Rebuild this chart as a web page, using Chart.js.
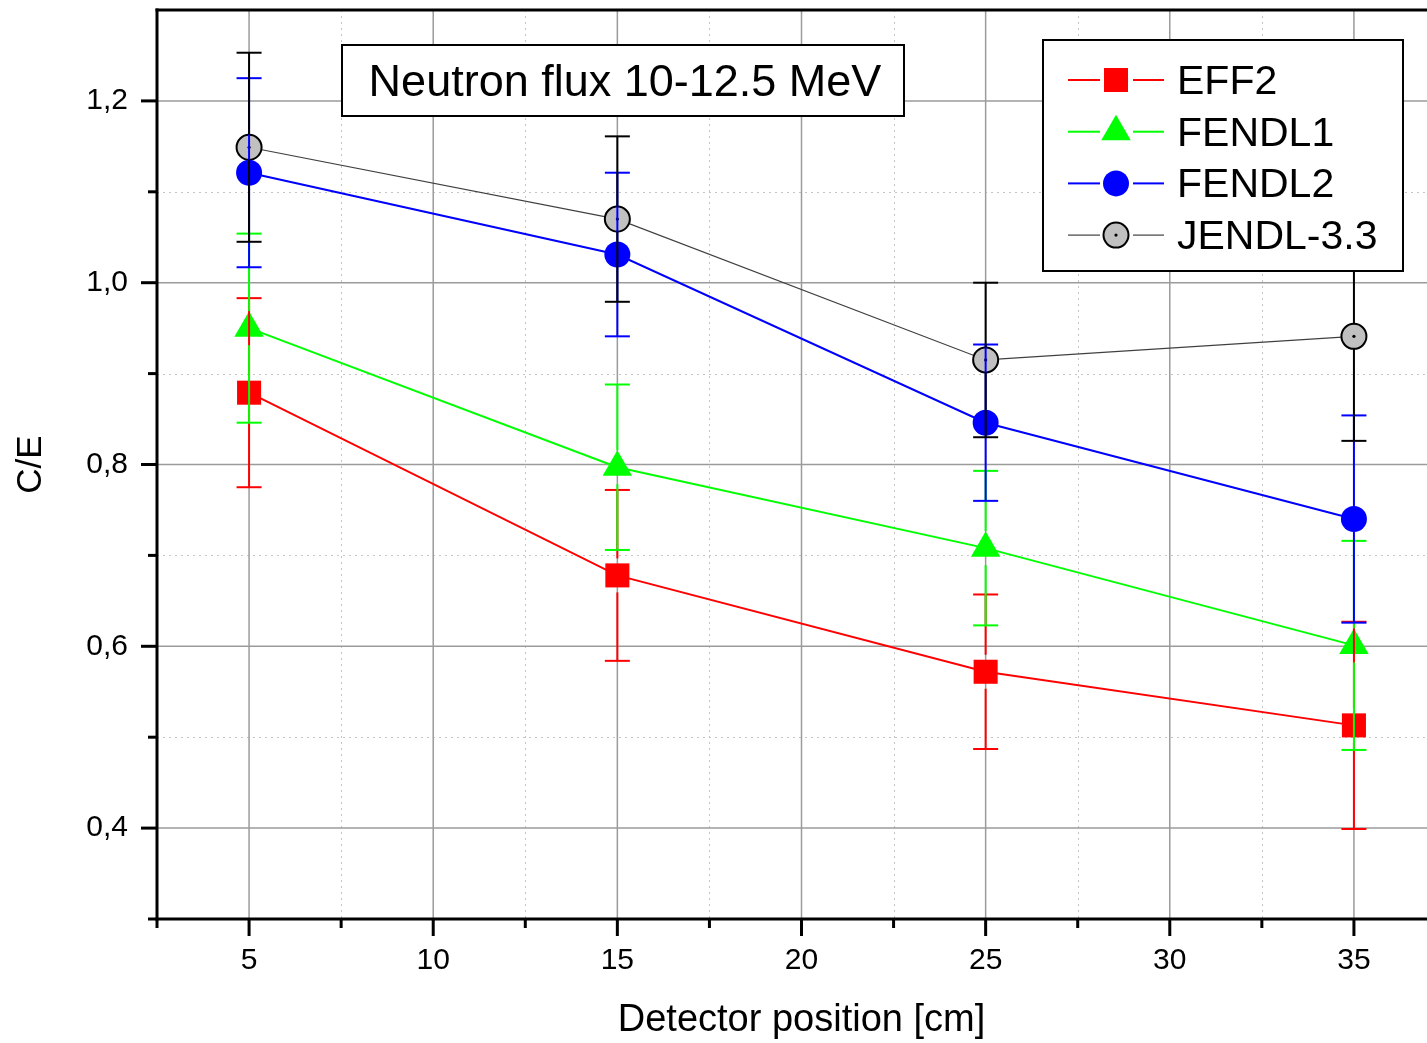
<!DOCTYPE html>
<html>
<head>
<meta charset="utf-8">
<script src="https://cdn.jsdelivr.net/npm/chart.js@4.4.1/dist/chart.umd.min.js"></script>
<style>
  html, body { margin: 0; padding: 0; background: #fff; overflow: hidden; }
  #chart { display: block; width: 1446px; height: 1043px; }
</style>
</head>
<body>
<canvas id="chart" width="1446" height="1043"></canvas>
<script>
// detector positions [cm] and C/E values
const positions = [5, 15, 25, 35];

const eff2      = [0.879, 0.678, 0.572, 0.513];
const eff2Err   = [0.104, 0.094, 0.085, 0.114];
const fendl1    = [0.950, 0.797, 0.708, 0.601];
const fendl1Err = [0.104, 0.091, 0.085, 0.115];
const fendl2    = [1.121, 1.031, 0.846, 0.740];
const fendl2Err = [0.104, 0.090, 0.086, 0.114];
const jendl     = [1.149, 1.070, 0.915, 0.941];
const jendlErr  = [0.104, 0.091, 0.085, 0.115];

const xTicks = [5, 10, 15, 20, 25, 30, 35];
const xTickLabels = ["5", "10", "15", "20", "25", "30", "35"];
const xMinorTicks = [2.5, 7.5, 12.5, 17.5, 22.5, 27.5, 32.5];
const yTicks = [0.4, 0.6, 0.8, 1.0, 1.2];
const yTickLabels = ["0,4", "0,6", "0,8", "1,0", "1,2"];
const yMinorTicks = [0.3, 0.5, 0.7, 0.9, 1.1];

const TITLE = "Neutron flux 10-12.5 MeV";
const FONT = "'Liberation Sans', Arial, Helvetica, sans-serif";

// plot frame in canvas pixels (canvas is a bit wider than the window, as the original was cropped)
const AREA = { left: 157, top: 10, right: 1446, bottom: 919 };

const series = [
  { label: "EFF2",       values: eff2,   errors: eff2Err,   color: "#ff0000", line: "#ff0000", lineWidth: 2,
    style: "rect",     radius: 17, fill: "#ff0000", edge: "#ff0000", edgeWidth: 0 },
  { label: "FENDL1",     values: fendl1, errors: fendl1Err, color: "#00ff00", line: "#00ff00", lineWidth: 2,
    style: "triangle", radius: 17, fill: "#00ff00", edge: "#00ff00", edgeWidth: 0 },
  { label: "FENDL2",     values: fendl2, errors: fendl2Err, color: "#0000ff", line: "#0000ff", lineWidth: 2,
    style: "circle",   radius: 13, fill: "#0000ff", edge: "#0000ff", edgeWidth: 0 },
  { label: "JENDL-3.3",  values: jendl,  errors: jendlErr,  color: "#000000", line: "#404040", lineWidth: 1.2,
    style: "circle",   radius: 12.5, fill: "#c0c0c0", edge: "#000000", edgeWidth: 2, dot: true },
];

function seg(ctx, x1, y1, x2, y2){
  ctx.beginPath(); ctx.moveTo(x1, y1); ctx.lineTo(x2, y2); ctx.stroke();
}

function marker(ctx, s, x, y){
  ctx.save();
  ctx.fillStyle = s.fill;
  ctx.strokeStyle = s.edge;
  ctx.lineWidth = s.edgeWidth;
  Chart.helpers.drawPoint(ctx, { pointStyle: s.style, radius: s.radius, rotation: 0, borderWidth: s.edgeWidth }, x, y);
  if (s.dot) {
    ctx.fillStyle = "#000";
    ctx.beginPath(); ctx.arc(x, y, 1.6, 0, Math.PI * 2); ctx.fill();
  }
  ctx.restore();
}

const frame = {
  id: "frame",

  // pin the plot frame, whatever padding the auto layout came up with
  afterLayout(chart){
    const a = chart.chartArea;
    const { x, y } = chart.scales;
    Object.assign(a, AREA, { width: AREA.right - AREA.left, height: AREA.bottom - AREA.top });
    Object.assign(x, { left: AREA.left, right: AREA.right, top: AREA.bottom, bottom: chart.height,
                       width: AREA.right - AREA.left, height: chart.height - AREA.bottom });
    Object.assign(y, { left: 0, right: AREA.left, top: AREA.top, bottom: AREA.bottom,
                       width: AREA.left, height: AREA.bottom - AREA.top });
    x.configure(); y.configure();
  },

  beforeDatasetsDraw(chart){
    const { ctx, chartArea: a, scales: { x, y } } = chart;
    ctx.save();

    // minor grid (dotted)
    ctx.strokeStyle = "#c4c4c4"; ctx.lineWidth = 1; ctx.setLineDash([2, 4]);
    xMinorTicks.forEach(v => {
      const px = Math.round(x.getPixelForValue(v)) + 0.5;
      if (px > a.left + 3) seg(ctx, px, a.top, px, a.bottom);
    });
    yMinorTicks.forEach(v => {
      const py = Math.round(y.getPixelForValue(v)) + 0.5;
      if (py < a.bottom - 3) seg(ctx, a.left, py, a.right, py);
    });

    // major grid
    ctx.setLineDash([]); ctx.strokeStyle = "#9b9b9b"; ctx.lineWidth = 1.5;
    xTicks.forEach(v => { const px = x.getPixelForValue(v); seg(ctx, px, a.top, px, a.bottom); });
    yTicks.forEach(v => { const py = y.getPixelForValue(v); seg(ctx, a.left, py, a.right, py); });

    // axes
    ctx.strokeStyle = "#000"; ctx.lineWidth = 3;
    seg(ctx, a.left, a.top - 1.5, a.left, a.bottom + 1.5);
    seg(ctx, a.left - 1.5, a.bottom, a.right, a.bottom);
    seg(ctx, a.left - 1.5, a.top, a.right, a.top);

    // tick marks (outward)
    xTicks.forEach(v => { const px = x.getPixelForValue(v); seg(ctx, px, a.bottom, px, a.bottom + 17); });
    xMinorTicks.forEach(v => { const px = x.getPixelForValue(v); seg(ctx, px, a.bottom, px, a.bottom + 9); });
    yTicks.forEach(v => { const py = y.getPixelForValue(v); seg(ctx, a.left, py, a.left - 16, py); });
    yMinorTicks.forEach(v => { const py = y.getPixelForValue(v); seg(ctx, a.left, py, a.left - 9, py); });

    ctx.restore();
  },

  afterDatasetsDraw(chart){
    const { ctx, scales: { x, y } } = chart;
    ctx.save();

    // centre dots on the JENDL markers
    series.forEach(s => {
      if (!s.dot) return;
      s.values.forEach((v, i) => {
        ctx.fillStyle = "#000";
        ctx.beginPath();
        ctx.arc(x.getPixelForValue(positions[i]), y.getPixelForValue(v), 1.6, 0, Math.PI * 2);
        ctx.fill();
      });
    });

    // error bars: start at the marker edge, go out to +/- err with caps
    series.forEach(s => {
      ctx.strokeStyle = s.color; ctx.lineWidth = 2;
      s.values.forEach((v, i) => {
        const px = x.getPixelForValue(positions[i]);
        const py = y.getPixelForValue(v);
        const top = y.getPixelForValue(v + s.errors[i]);
        const bot = y.getPixelForValue(v - s.errors[i]);
        const gap = s.radius;
        seg(ctx, px, top, px, py - gap);
        seg(ctx, px, py + gap, px, bot);
        seg(ctx, px - 12.5, top, px + 12.5, top);
        seg(ctx, px - 12.5, bot, px + 12.5, bot);
      });
    });

    // title box
    const tb = { x: 342, y: 45, w: 562, h: 71 };
    ctx.fillStyle = "#fff"; ctx.fillRect(tb.x, tb.y, tb.w, tb.h);
    ctx.strokeStyle = "#000"; ctx.lineWidth = 2; ctx.strokeRect(tb.x, tb.y, tb.w, tb.h);
    ctx.fillStyle = "#000"; ctx.font = `45px ${FONT}`;
    ctx.textAlign = "center"; ctx.textBaseline = "alphabetic";
    ctx.fillText(TITLE, tb.x + tb.w / 2 + 2, 96);

    // legend
    const lg = { x: 1043, y: 40, w: 360, h: 231 };
    ctx.fillStyle = "#fff"; ctx.fillRect(lg.x, lg.y, lg.w, lg.h);
    ctx.strokeStyle = "#000"; ctx.lineWidth = 2; ctx.strokeRect(lg.x, lg.y, lg.w, lg.h);
    series.forEach((s, i) => {
      const base = 94 + i * 51.7;
      const my = base - 14;
      ctx.strokeStyle = s.line; ctx.lineWidth = s.lineWidth;
      seg(ctx, 1068, my, 1100, my);
      seg(ctx, 1133, my, 1164, my);
      marker(ctx, s, 1116, my);
      ctx.fillStyle = "#000"; ctx.font = `41px ${FONT}`;
      ctx.textAlign = "left"; ctx.textBaseline = "alphabetic";
      ctx.fillText(s.label, 1177, base);
    });

    ctx.restore();
  }
};

new Chart(document.getElementById("chart"), {
  type: "line",
  data: {
    datasets: series.map(s => ({
      label: s.label,
      data: positions.map((p, i) => ({ x: p, y: s.values[i] })),
      borderColor: s.line,
      borderWidth: s.lineWidth,
      backgroundColor: s.fill,
      pointStyle: s.style,
      pointRadius: s.radius,
      pointBackgroundColor: s.fill,
      pointBorderColor: s.edge,
      pointBorderWidth: s.edgeWidth,
      tension: 0,
      fill: false,
      clip: false
    }))
  },
  options: {
    responsive: false,
    devicePixelRatio: 1,
    animation: false,
    events: [],
    layout: { padding: { top: 10, right: 0, bottom: 0, left: 0 } },
    plugins: { legend: { display: false }, tooltip: { enabled: false } },
    scales: {
      x: {
        type: "linear", min: 2.5, max: 37.5,
        afterBuildTicks: s => { s.ticks = xTicks.map(v => ({ value: v })); },
        afterFit: s => { s.height = 124; s.paddingLeft = 0; s.paddingRight = 0; },
        grid: { display: false, drawTicks: false }, border: { display: false },
        ticks: { font: { family: FONT, size: 30 }, color: "#000", padding: 24,
                 maxRotation: 0, autoSkip: false, callback: (v, i) => xTickLabels[i] },
        title: { display: true, text: "Detector position [cm]", color: "#000",
                 font: { family: FONT, size: 38 }, padding: { top: 0, bottom: 0 } }
      },
      y: {
        type: "linear", min: 0.3, max: 1.3,
        afterBuildTicks: s => { s.ticks = yTicks.map(v => ({ value: v })); },
        afterFit: s => { s.width = 157; s.paddingTop = 0; s.paddingBottom = 0; },
        grid: { display: false, drawTicks: false }, border: { display: false },
        ticks: { font: { family: FONT, size: 30 }, color: "#000", padding: 29,
                 autoSkip: false, callback: (v, i) => yTickLabels[i] },
        title: { display: true, text: "C/E", color: "#000",
                 font: { family: FONT, size: 35 }, padding: { top: 10, bottom: 0 } }
      }
    }
  },
  plugins: [frame]
});
</script>
</body>
</html>
